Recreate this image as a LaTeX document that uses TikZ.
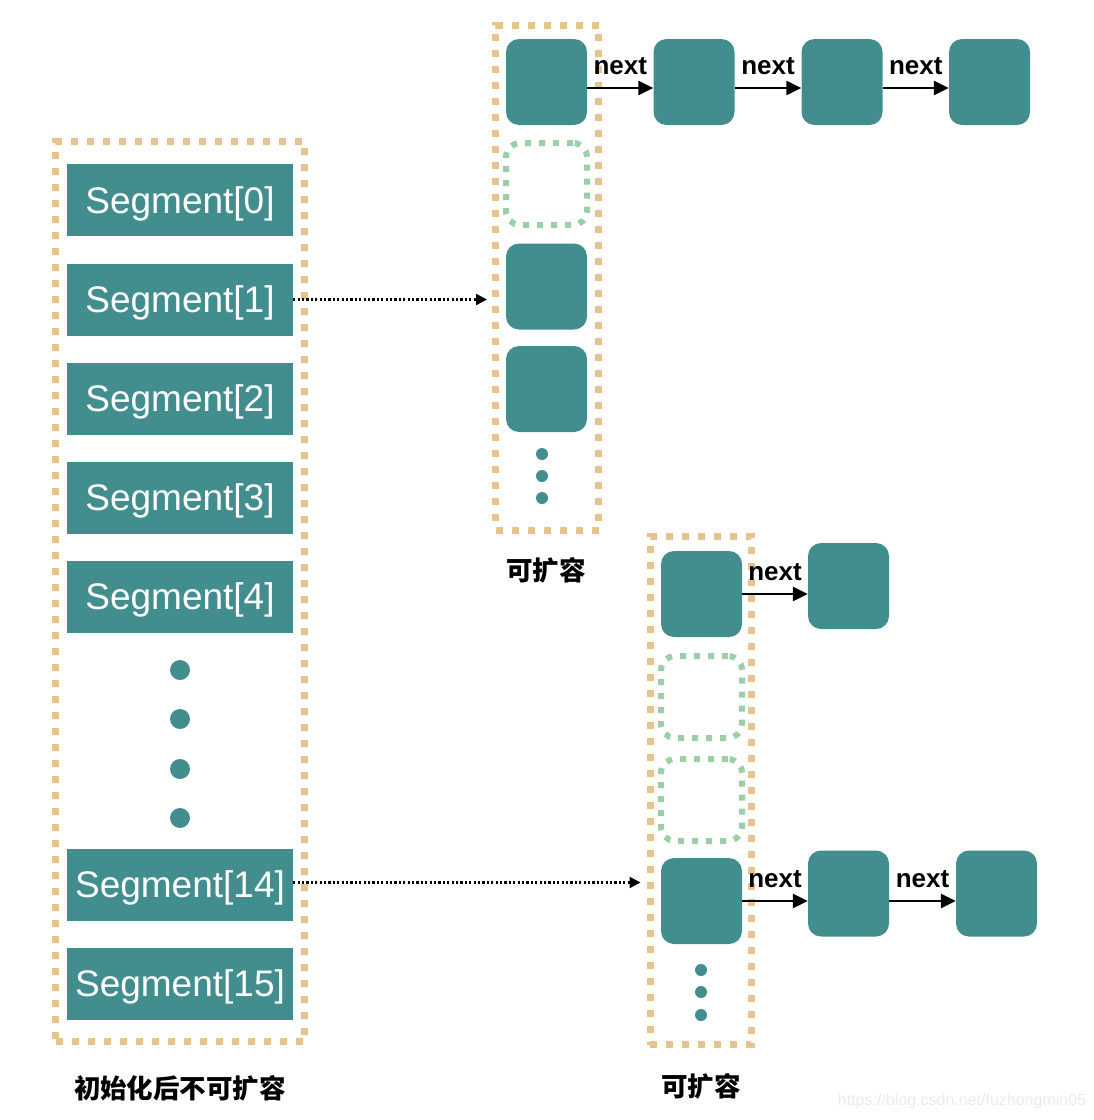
\documentclass[tikz,border=0pt]{standalone}
\usepackage{fontspec}
\setmainfont{Liberation Sans}
\newfontfamily\cjk{Noto Sans CJK SC}
\usetikzlibrary{arrows.meta,positioning}
\usepackage{xcolor}

\definecolor{cella}{HTML}{428E8E}
\definecolor{bordo}{HTML}{E8C38E}
\definecolor{vuoto}{HTML}{9BCFA8}

\tikzset{
  seg/.style={fill=cella,minimum width=226pt,minimum height=72pt,inner sep=0pt,
    text=white,font=\fontsize{37}{37}\selectfont,text height=26pt,text depth=0pt},
  cell/.style={fill=cella,rounded corners=13pt,minimum width=81pt,minimum height=86pt,inner sep=0pt},
  hole/.style={draw=vuoto,line width=6pt,dash pattern=on 6pt off 8pt,rounded corners=14pt,
    minimum width=81pt,minimum height=82pt,inner sep=0pt},
  bucket/.style={draw=bordo,line width=7pt,dash pattern=on 7pt off 9pt,inner sep=0pt},
  link/.style={-{Triangle[length=15pt,width=14pt]},line width=2.8pt},
  ptr/.style={-{Triangle[length=11pt,width=11pt]},line width=2.2pt,dash pattern=on 2.2pt off 2.2pt},
  lbl/.style={font=\bfseries\fontsize{26}{26}\selectfont,inner sep=0pt},
  cjklbl/.style={font=\cjk\bfseries\fontsize{26.5}{26.5}\selectfont,inner sep=0pt}
}

\begin{document}
\begin{tikzpicture}[x=1pt,y=-1pt]
  \useasboundingbox (0,0) rectangle (1094,1120);

  % Contenitori
  \node[bucket,minimum width=249pt,minimum height=900pt] (tab0) at (180,591.5) {};
  \node[bucket,minimum width=103pt,minimum height=505pt] (tab1) at (547,277.5) {};
  \node[bucket,minimum width=101.5pt,minimum height=508pt] (tab2) at (700.75,790.5) {};

  % Segmenti
  \foreach \i/\y in {0/200,1/299.5,2/398.5,3/497.5,4/596.5,14/884.5,15/983.5} {
    \node[seg] (s\i) at (180,\y) {Segment[\i]};
  }
  \foreach \y in {670,719,769,818} {
    \fill[cella] (180,\y) circle (10pt);
  }

  % Tabella in alto
  \node[cell] (a0) at (546.5,82) {};
  \node[hole] (a1) at (546.5,184) {};
  \node[cell] (a2) at (546.5,286.5) {};
  \node[cell] (a3) at (546.5,389) {};
  \foreach \y in {454,476,498} {
    \fill[cella] (542,\y) circle (6pt);
  }
  \node[cell] (n1) at (694,82) {};
  \node[cell] (n2) at (842,82) {};
  \node[cell] (n3) at (989.5,82) {};

  \draw[link] ([yshift=-6pt]a0.east) -- node[lbl,above=12pt] {next} ([yshift=-6pt]n1.west);
  \draw[link] ([yshift=-6pt]n1.east) -- node[lbl,above=12pt] {next} ([yshift=-6pt]n2.west);
  \draw[link] ([yshift=-6pt]n2.east) -- node[lbl,above=12pt] {next} ([yshift=-6pt]n3.west);

  % Tabella in basso
  \node[cell] (b0) at (701.5,594) {};
  \node[hole] (b1) at (701.5,697) {};
  \node[hole] (b2) at (701.5,800) {};
  \node[cell] (b3) at (701.5,901) {};
  \foreach \y in {970,992,1015} {
    \fill[cella] (701,\y) circle (6pt);
  }
  \node[cell] (m1) at (848.5,586) {};
  \node[cell] (p1) at (848.5,893.5) {};
  \node[cell] (p2) at (996.5,893.5) {};

  \draw[link] (b0.east) -- node[lbl,above=12pt] {next} (b0.east -| m1.west);
  \draw[link] (b3.east) -- node[lbl,above=12pt] {next} (b3.east -| p1.west);
  \draw[link] (b3.east -| p1.east) -- node[lbl,above=12pt] {next} (b3.east -| p2.west);

  % Puntatori
  \draw[ptr] (s1.east) -- ([xshift=-5pt]s1.east -| tab1.west);
  \draw[ptr] ([yshift=2pt]s14.east) -- ([xshift=-6pt,yshift=2pt]s14.east -| tab2.west);

  % Etichette
  \node[cjklbl] (t1) at (546,570) {可扩容};
  \node[cjklbl] (t2) at (701,1086) {可扩容};
  \node[cjklbl] (t0) at (180,1088) {初始化后不可扩容};
  \node[font=\fontsize{16}{16}\selectfont,text=black!8,inner sep=0pt] (wm) at (962,1101) {https://blog.csdn.net/fuzhongmin05};

\end{tikzpicture}
\end{document}
